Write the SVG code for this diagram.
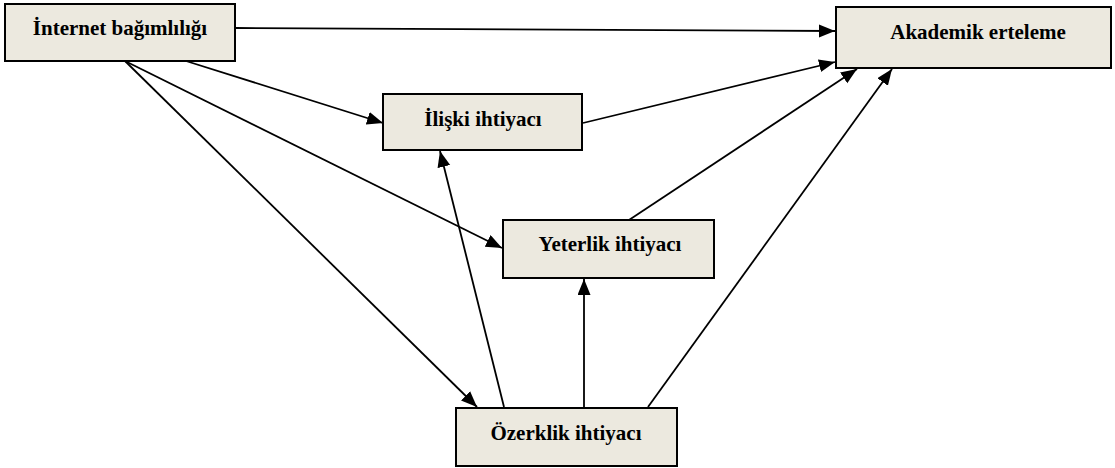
<svg xmlns="http://www.w3.org/2000/svg" width="1115" height="468" viewBox="0 0 1115 468">
<style>
.box{fill:#ECE9DF;stroke:#000;stroke-width:2}
.lbl{font-family:"Liberation Serif","Times New Roman",serif;font-weight:bold;font-size:21px;fill:#000;text-anchor:middle}
.edge{stroke:#000;stroke-width:1.8;fill:none;marker-end:url(#ah)}
</style>
<defs>
<marker id="ah" markerUnits="userSpaceOnUse" markerWidth="17" markerHeight="14" refX="16" refY="6.5" orient="auto">
<path d="M0,0 L16,6.5 L0,13 Z" fill="#000"/>
</marker>
</defs>
<g id="connectors">
<line class="edge" x1="236" y1="28" x2="835" y2="31"/>
<line class="edge" x1="186" y1="61" x2="383" y2="123"/>
<line class="edge" x1="125" y1="61" x2="502" y2="248"/>
<line class="edge" x1="125" y1="61" x2="477" y2="407"/>
<line class="edge" x1="504" y1="407" x2="440" y2="151"/>
<line class="edge" x1="584" y1="407" x2="584" y2="279"/>
<line class="edge" x1="648" y1="407" x2="892" y2="69"/>
<line class="edge" x1="629" y1="220" x2="857" y2="69"/>
<line class="edge" x1="583" y1="123" x2="835" y2="62"/>
</g>
<g id="internet">
<rect class="box" x="5" y="4" width="230" height="57"/>
<text class="lbl" x="120" y="35">İnternet bağımlılığı</text>
</g>
<g id="akademik">
<rect class="box" x="836" y="7" width="275" height="61"/>
<text class="lbl" x="978" y="39">Akademik erteleme</text>
</g>
<g id="iliski">
<rect class="box" x="383" y="94" width="199" height="56"/>
<text class="lbl" x="483" y="126">İlişki ihtiyacı</text>
</g>
<g id="yeterlik">
<rect class="box" x="503" y="220" width="211" height="58"/>
<text class="lbl" x="610" y="251">Yeterlik ihtiyacı</text>
</g>
<g id="ozerklik">
<rect class="box" x="456" y="408" width="221" height="58"/>
<text class="lbl" x="566" y="440">Özerklik ihtiyacı</text>
</g>
</svg>
